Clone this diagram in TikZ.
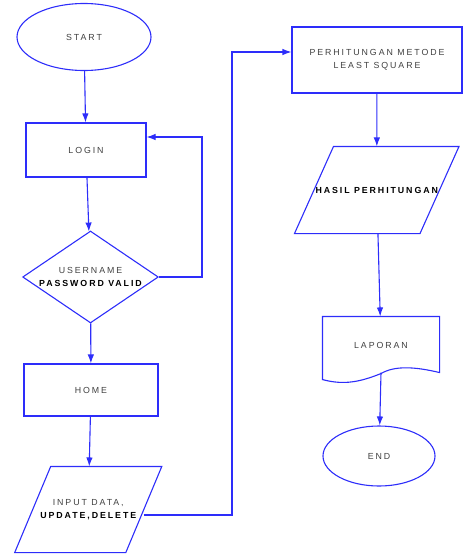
\documentclass[tikz,border=0pt]{standalone}
\usepackage{fontspec}
\setmainfont{Liberation Sans}
\newfontfamily\flowsans[LetterSpace=22]{Liberation Sans}
\usetikzlibrary{positioning,shapes.geometric,arrows.meta}
\definecolor{flowblue}{RGB}{45,45,250}
\newcommand{\dark}[1]{{\bfseries\color{black}#1}}

\begin{document}
\begin{tikzpicture}
            [x=1pt, y=-1pt,
            font=\flowsans\fontsize{8.8}{12.5}\selectfont,
            every node/.style={draw=flowblue, line width=1.1pt,
            text=black!75, align=center, inner sep=1pt},
            box/.style={rectangle},
            term/.style={ellipse},
            decision/.style={diamond, aspect=1.5, minimum width=133, minimum height=92},
            io/.style={rectangle, draw=none},
            doc/.style={rectangle, draw=none},
            outline/.style={draw=flowblue, line width=1.1pt},
            flow/.style={draw=flowblue, line width=1.1pt,
                -{Latex[length=9pt,width=6.5pt]}}]
            \useasboundingbox (0,0) rectangle (464,554);
            % left column
            \node[term, minimum width=134, minimum height=67] (start) at (84,37) {START};
            \node[box, minimum width=120, minimum height=54] (login) at (86,150) {LOGIN};
            \node[decision] (valid) at (90.5,277) {USERNAME\\\dark{PASSWORD VALID}};
            \node[box, minimum width=134, minimum height=52] (home) at (91,390) {HOME};
            \node[io, minimum width=110, minimum height=85] (input) at (88.25,509.5)
                {INPUT DATA,\\\dark{UPDATE,DELETE}};
            \draw[outline] ([xshift=18pt]input.north west) -- ([xshift=18pt]input.north east)
                -- ([xshift=-18pt]input.south east) -- ([xshift=-18pt]input.south west) -- cycle;
            % right column
            \node[box, minimum width=170, minimum height=66] (hitung) at (377,60)
                {PERHITUNGAN METODE\\LEAST SQUARE};
            \node[io, minimum width=114.5, minimum height=86] (hasil) at (376.75,190)
                {\dark{HASIL PERHITUNGAN}};
            \draw[outline] ([xshift=19.5pt]hasil.north west) -- ([xshift=19.5pt]hasil.north east)
                -- ([xshift=-19.5pt]hasil.south east) -- ([xshift=-19.5pt]hasil.south west) -- cycle;
            \node[doc, minimum width=116, minimum height=56] (laporan) at (381,345) {LAPORAN};
            \draw[outline] (laporan.north west) -- (laporan.north east)
                -- ([yshift=1pt]laporan.south east)
                .. controls ([xshift=-25pt,yshift=7pt]laporan.south east) and ([xshift=-45pt,yshift=8pt]laporan.south east) .. (laporan.south)
                .. controls ([xshift=-20pt,yshift=-8pt]laporan.south) and ([xshift=22pt,yshift=-12pt]laporan.south west) .. ([yshift=-6pt]laporan.south west)
                -- cycle;
            \node[term, minimum width=112, minimum height=60] (end) at (379,456) {END};
            % connectors
            \coordinate (loop) at (202,277);
            \coordinate (jog) at (232,52);
            \draw[flow] (start) -- (login);
            \draw[flow] (login) -- (valid);
            \draw[flow] (valid.east) -- (loop) |- ([yshift=13pt]login.east);
            \draw[flow] (valid) -- (home);
            \draw[flow] (home) -- (input);
            \draw[flow] ([yshift=-5.5pt]input.east) -| (jog) |- ([yshift=8pt]hitung.west);
            \draw[flow] (hitung) -- (hasil);
            \draw[flow] (hasil) -- (laporan);
            \draw[flow] ([yshift=1pt]laporan.south) -- (end);
\end{tikzpicture}
\end{document}
